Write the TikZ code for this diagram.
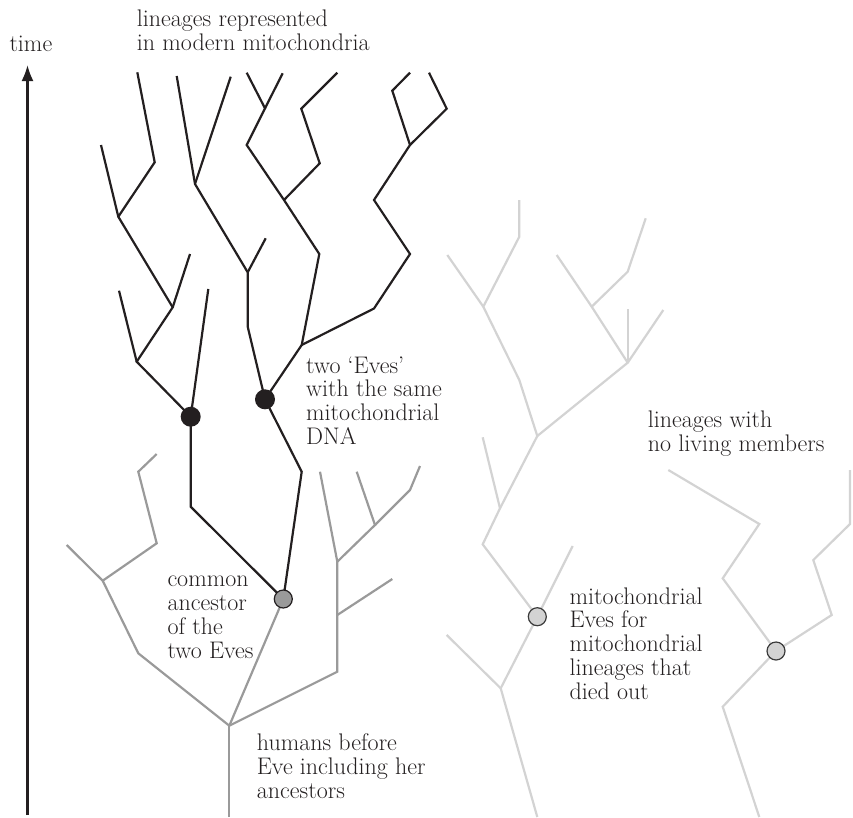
\documentclass[tikz,border=0pt]{standalone}
\usetikzlibrary{arrows.meta}
\definecolor{ink}{HTML}{231F20}
\definecolor{midgrey}{HTML}{9A9A9A}
\definecolor{lightgrey}{HTML}{D3D3D3}
\definecolor{dotedge}{HTML}{3A3A3A}
\begin{document}
\begin{tikzpicture}[x=1pt,y=-1pt,
  live/.style={draw=ink,line width=2.2pt},
  gone/.style={draw=midgrey,line width=2.2pt},
  dead/.style={draw=lightgrey,line width=2.2pt},
  eve/.style={circle,fill=ink,inner sep=0pt,minimum size=20pt},
  anc/.style={circle,fill=midgrey,draw=ink,line width=1.2pt,inner sep=0pt,minimum size=18pt},
  deadeve/.style={circle,fill=lightgrey,draw=dotedge,line width=1.2pt,inner sep=0pt,minimum size=18pt},
  lbl/.style={anchor=base west,align=left,inner sep=0pt,text=ink,font=\fontsize{24}{23.8}\selectfont}]
\path[use as bounding box] (0,0) rectangle (853,817);

% named points
\coordinate (E1) at (190.7,416.7);
\coordinate (E2) at (265,399.3);
\coordinate (A) at (283.3,599);
\coordinate (R) at (229.3,725.7);
\coordinate (D1) at (537.3,616.7);
\coordinate (D2) at (776,651);
\coordinate (tbot) at (27.5,815);
\coordinate (ttop) at (27.5,65);

% time arrow
\draw[ink,line width=2.2pt,-{Latex[length=16pt,width=12pt]}] (tbot) -- (ttop);

% medium grey tree (humans before Eve)
\draw[gone] (229.3,817) -- (R);
\draw[gone] (R) -- (A);
\draw[gone] (R) -- (337.3,671.7) -- (337.3,561.7) -- (320,471.7);
\draw[gone] (337.3,615) -- (392.3,579);
\draw[gone] (337.3,561.7) -- (375,525) -- (356.7,471.7);
\draw[gone] (375,525) -- (410,490) -- (420,466);
\draw[gone] (R) -- (138.3,653.3) -- (102.7,580.7) -- (66.7,545);
\draw[gone] (102.7,580.7) -- (156.7,543.3) -- (138.3,471.7) -- (156.7,454);

% black tree (living lineages)
\draw[live] (137.3,72.3) -- (154.7,162.3) -- (118.3,216.7);
\draw[live] (101,145) -- (118.3,216.7) -- (172.7,307.3) -- (136.7,361.7) -- (E1);
\draw[live] (190,254) -- (172.7,307.3);
\draw[live] (119,290.7) -- (136.7,361.7);
\draw[live] (208.3,289) -- (E1);
\draw[live] (176.7,76) -- (195,184) -- (247.7,272.3) -- (247.7,326.7) -- (E2);
\draw[live] (230.7,76.7) -- (195,184);
\draw[live] (265.7,238.3) -- (247.7,272.3);
\draw[live] (246.7,72.7) -- (265,108.3) -- (246.7,145) -- (284,200) -- (319.3,254) -- (301.7,345) -- (E2);
\draw[live] (282.7,73.3) -- (265,108.3);
\draw[live] (337.3,72.7) -- (301.3,108.7) -- (319.7,163.3) -- (284,200);
\draw[live] (410,72.7) -- (392.3,90.7) -- (410,145) -- (374,200) -- (410,254) -- (374,308.5) -- (301.7,345);
\draw[live] (429,72.7) -- (446.7,108.7) -- (410,145);
\draw[live] (E1) -- (190.7,506.7) -- (A);
\draw[live] (E2) -- (301.7,471.7) -- (A);

% light grey tree 1 (extinct)
\draw[dead] (519.3,200) -- (519.3,236.7) -- (483.3,306.7) -- (519.3,380) -- (537.3,436) -- (500,508.3) -- (482.7,544.3) -- (D1);
\draw[dead] (447.3,255) -- (483.3,306.7);
\draw[dead] (537.3,436) -- (627.7,362.7) -- (591.7,306.7) -- (556.7,255);
\draw[dead] (627.7,362.7) -- (627.7,309.3);
\draw[dead] (627.7,362.7) -- (663.3,310);
\draw[dead] (591.7,306.7) -- (627.7,271.7) -- (645.7,218.3);
\draw[dead] (482.7,437.3) -- (500,508.3);
\draw[dead] (572.7,546) -- (D1);
\draw[dead] (D1) -- (500.7,688.3) -- (537.3,817);
\draw[dead] (446.7,635) -- (500.7,688.3);

% light grey tree 2 (extinct)
\draw[dead] (668.3,470) -- (759.3,524) -- (722.7,578.3) -- (D2);
\draw[dead] (850,470) -- (850,524) -- (813.3,560) -- (831.7,615) -- (D2);
\draw[dead] (D2) -- (722.7,706.7) -- (759.3,817);

% dots
\node[eve] (e1) at (E1) {};
\node[eve] (e2) at (E2) {};
\node[anc] (anc) at (A) {};
\node[deadeve] (d1) at (D1) {};
\node[deadeve] (d2) at (D2) {};

% labels (anchored at the baseline of their last line)
\node[lbl] (ltime) at (9.3,51.7) {time};
\node[lbl] (ltitle) at (136.7,50) {lineages represented\\in modern mitochondria};
\node[lbl] (leves) at (306,444.5) {two ‘Eves’\\with the same\\mitochondrial\\DNA};
\node[lbl] (lnoliving) at (647.7,451.7) {lineages with\\no living members};
\node[lbl] (lcommon) at (167.3,658.3) {common\\ancestor\\of the\\two Eves};
\node[lbl] (ldied) at (569.3,699.3) {mitochondrial\\Eves for\\mitochondrial\\lineages that\\died out};
\node[lbl] (lhumans) at (256.7,798.3) {humans before\\Eve including her\\ancestors};
\end{tikzpicture}
\end{document}
